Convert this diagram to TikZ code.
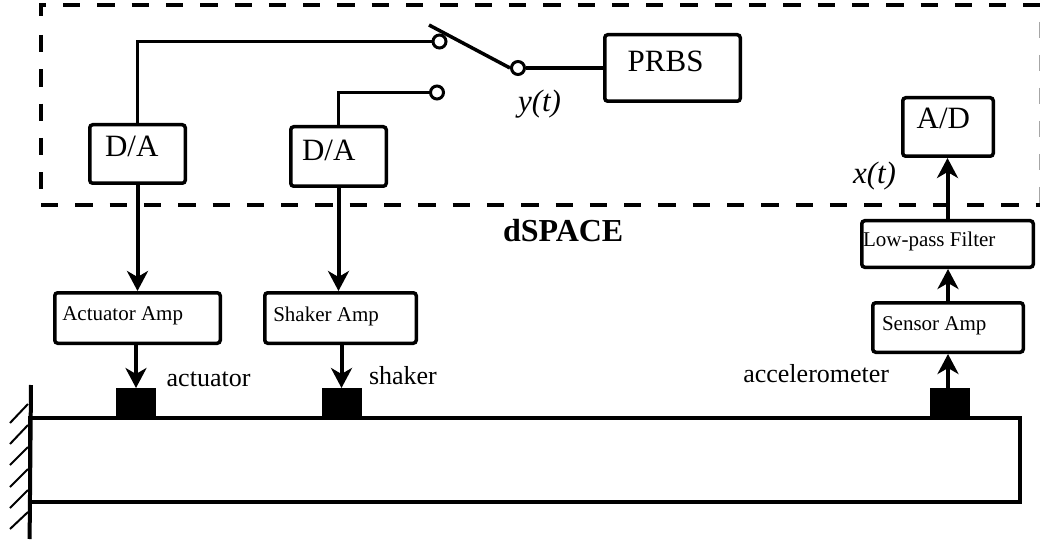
\documentclass[tikz,border=0pt]{standalone}
\usepackage{fontspec}
\setmainfont{Liberation Serif}
\usetikzlibrary{arrows.meta}
\newcommand{\fsz}[1]{\fontsize{#1}{#1}\selectfont}
\tikzset{
  boxnode/.style={draw=black,line width=3.5pt,rounded corners=3pt,fill=white,inner sep=0pt},
  mass/.style={fill=black,inner sep=0pt,minimum width=40pt,minimum height=29pt,outer sep=0pt},
  beam/.style={draw=black,line width=4pt,inner sep=0pt,outer sep=0pt},
  contact/.style={circle,draw=black,line width=3pt,fill=white,inner sep=0pt,minimum size=13pt},
  wire/.style={line width=3.5pt},
  sig/.style={line width=4pt,-{Stealth[length=20pt,width=21pt,inset=6pt]}},
  frame/.style={line width=4pt,dash pattern=on 17.3pt off 17pt},
  hatchline/.style={line width=2pt},
  txt/.style={anchor=base west,inner sep=0pt,outer sep=0pt},
  big/.style={txt,font=\fsz{31}},
  small/.style={txt,font=\fsz{21}},
  mid/.style={txt,font=\fsz{26}},
  sigtxt/.style={txt,font=\fsz{31}\itshape},
}
\begin{document}
\begin{tikzpicture}[x=1pt,y=-1pt]
\useasboundingbox (0,0) rectangle (1040,545);
\fill[white] (0,0) rectangle (1040,545);
% dSPACE frame
\draw[frame] (63,5) -- (1040,5);
\draw[frame] (41,35) -- (41,190);
\draw[frame] (41,205) -- (1040,205);
\draw[line width=4pt] (41,16) -- (41,5) -- (46,5);
\draw[line width=1.2pt,gray!70,dash pattern=on 16.5pt off 16.5pt] (1039.4,22) -- (1039.4,205);
% beam and wall
\node[beam,minimum width=990pt,minimum height=84pt] (beamn) at (525,460) {};
\draw[line width=4pt] (31,385) -- (29.6,539);
\foreach \ya/\yb in {404/423,425/444,447/465,469/487,490/508,512/529}
  \draw[hatchline] (28,\ya) -- (10,\yb);
% masses
\node[mass] (act) at (136,402.5) {};
\node[mass] (shk) at (341.5,402.5) {};
\node[mass] (acc) at (949.5,402.5) {};
% boxes
\node[boxnode,minimum width=95.5pt,minimum height=58.5pt] (da1) at (137.5,154) {};
\node[boxnode,minimum width=95.5pt,minimum height=59.5pt] (da2) at (338.5,156.5) {};
\node[boxnode,minimum width=135.5pt,minimum height=66.5pt] (prbs) at (672.5,68) {};
\node[boxnode,minimum width=90.5pt,minimum height=58.5pt] (ad) at (948,127) {};
\node[boxnode,minimum width=171.5pt,minimum height=46.5pt] (lp) at (947.5,244) {};
\node[boxnode,minimum width=165.5pt,minimum height=50.5pt] (aamp) at (137.5,318) {};
\node[boxnode,minimum width=151.5pt,minimum height=50.5pt] (samp) at (340.5,318) {};
\node[boxnode,minimum width=150.5pt,minimum height=49.5pt] (sens) at (948,327.5) {};
% switch
\node[contact] (c1) at (439.5,41.5) {};
\node[contact] (c2) at (437,92.5) {};
\node[contact] (c3) at (518,68) {};
\coordinate (swtip) at (429,25);
\draw[wire] (da1.north) |- (c1.west);
\draw[wire] (da2.north) |- (c2.west);
\draw[wire] (c3.east) -- (prbs.west);
\draw[line width=3.5pt] (swtip) -- (c3.west);
% arrows
\draw[sig] (da1.south) -- (aamp.north);
\draw[sig] (da2.south) -- (da2.south |- samp.north);
\draw[sig] (aamp.south -| act.north) -- (act.north);
\draw[sig] (samp.south -| shk.north) -- (shk.north);
\coordinate (accout) at (948,388);
\draw[sig] (accout) -- (sens.south);
\draw[sig] (sens.north) -- (lp.south -| sens.north);
\draw[sig] (lp.north) -- (ad.south -| lp.north);
% texts
\node[big] (tda1) at (105,157) {D/A};
\node[big] (tda2) at (302,160.7) {D/A};
\node[big] (tprbs) at (627.7,71.7) {PRBS};
\node[big] (tad) at (916.7,129) {A/D};
\node[sigtxt] (ty) at (518,112) {y(t)};
\node[sigtxt] (tx) at (853,184) {x(t)};
\node[txt,font=\fsz{32}\bfseries] (tds) at (503,241.7) {dSPACE};
\node[small] (tlp) at (863,246.7) {Low-pass Filter};
\node[small] (taa) at (62.3,320) {Actuator Amp};
\node[small] (tsa) at (273.3,321) {Shaker Amp};
\node[small] (tse) at (882,330) {Sensor Amp};
\node[mid] (tact) at (166.7,386) {actuator};
\node[mid] (tshk) at (369,384.7) {shaker};
\node[mid] (tacc) at (743.3,382) {accelerometer};
\end{tikzpicture}
\end{document}
